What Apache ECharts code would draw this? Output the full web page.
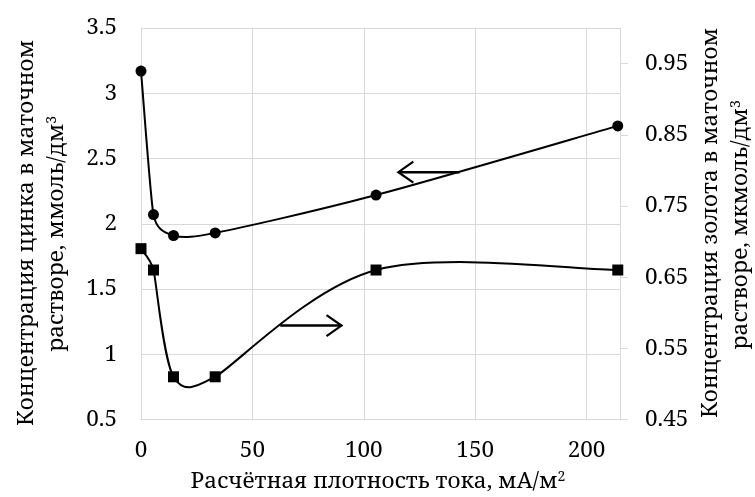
<!DOCTYPE html>
<html>
<head>
<meta charset="utf-8">
<script src="https://cdn.jsdelivr.net/npm/echarts@6/dist/echarts.min.js"></script>
<style>
  html, body { margin: 0; padding: 0; background: #fff; }
  #chart { width: 755px; height: 497px; }
</style>
</head>
<body>
<div id="chart"></div>
<script>
// Current density, mA/m²
const density = [0, 5.6, 14.6, 33.3, 105.5, 214];
// Zinc concentration in the mother solution, mmol/dm³ (left axis)
const zinc = [3.17, 2.07, 1.91, 1.93, 2.22, 2.75];
// Gold concentration in the mother solution, µmol/dm³ (right axis)
const gold = [0.69, 0.66, 0.51, 0.51, 0.66, 0.66];

// Axis tick values
const xTicks = [0, 50, 100, 150, 200];
const leftTicks = [0.5, 1, 1.5, 2, 2.5, 3, 3.5];
const rightTicks = [0.45, 0.55, 0.65, 0.75, 0.85, 0.95];

// Pointer arrows, in data units: [fromX, toX, y, yAxisIndex]
const zincArrow = [143, 115.5, 2.395, 0];
const goldArrow = [62.5, 90, 0.582, 1];

const FONT = '"Noto Serif", "DejaVu Serif", serif';
const FS = 22.5;
const GRID = '#d9d9d9';

const chart = echarts.init(document.getElementById('chart'), null, { renderer: 'canvas' });

const labelStyle = { color: '#000', fontFamily: FONT, fontSize: FS };

// Smooth curve through the points: cubic Bézier segments with Catmull-Rom
// tangents, each control arm capped at half of the adjacent segment.
function smoothCurve(values, yAxisIndex) {
  return {
    type: 'custom',
    yAxisIndex: yAxisIndex,
    data: density.map((x, i) => [x, values[i]]),
    silent: true,
    z: 2,
    renderItem: function (params, api) {
      const i = params.dataIndex;
      const n = density.length;
      if (i >= n - 1) return null;
      const p = k => api.coord([density[Math.max(0, Math.min(n - 1, k))],
                                values[Math.max(0, Math.min(n - 1, k))]]);
      const dist = (a, b) => Math.hypot(a[0] - b[0], a[1] - b[1]);
      const p0 = p(i - 1), p1 = p(i), p2 = p(i + 1), p3 = p(i + 2);
      // tangent arm at point b, given its neighbours a and c
      function arm(a, b, c) {
        const v = [c[0] - a[0], c[1] - a[1]];
        const len = Math.hypot(v[0], v[1]);
        if (len === 0) return [0, 0];
        let L = len / 6;
        const d0 = dist(a, b), d1 = dist(b, c);
        const lim = Math.min(d0 > 0 ? d0 : Infinity, d1 > 0 ? d1 : Infinity) / 2;
        if (L > lim) L = lim;
        return [v[0] / len * L, v[1] / len * L];
      }
      const a1 = arm(p0, p1, p2);
      const a2 = arm(p1, p2, p3);
      return {
        type: 'bezierCurve',
        shape: {
          x1: p1[0], y1: p1[1],
          cpx1: p1[0] + a1[0], cpy1: p1[1] + a1[1],
          cpx2: p2[0] - a2[0], cpy2: p2[1] - a2[1],
          x2: p2[0], y2: p2[1]
        },
        style: { stroke: '#000', lineWidth: 2, fill: null }
      };
    }
  };
}

function markers(values, yAxisIndex, symbol) {
  return {
    type: 'scatter',
    yAxisIndex: yAxisIndex,
    data: density.map((x, i) => [x, values[i]]),
    symbol: symbol,
    symbolSize: 11,
    itemStyle: { color: '#000', opacity: 1 },
    z: 3
  };
}

chart.setOption({
  animation: false,
  backgroundColor: '#fff',
  textStyle: { fontFamily: FONT },
  grid: { left: 141, right: 135, top: 28, bottom: 77.5, containLabel: false },
  xAxis: {
    type: 'value',
    min: 0,
    max: 215,
    interval: 50,
    axisLine: { show: true, lineStyle: { color: GRID, width: 1 } },
    axisTick: { show: false },
    axisLabel: Object.assign({ margin: 20, customValues: xTicks }, labelStyle),
    splitLine: { show: true, lineStyle: { color: GRID, width: 1 } }
  },
  yAxis: [
    {
      type: 'value',
      position: 'left',
      min: 0.5,
      max: 3.5,
      interval: 0.5,
      axisLine: { show: true, lineStyle: { color: GRID, width: 1 } },
      axisTick: { show: false },
      axisLabel: Object.assign({ margin: 24, customValues: leftTicks,
        formatter: v => String(v) }, labelStyle),
      splitLine: { show: true, lineStyle: { color: GRID, width: 1 } }
    },
    {
      type: 'value',
      position: 'right',
      min: 0.45,
      max: 1.0,
      interval: 0.1,
      axisLine: { show: true, lineStyle: { color: GRID, width: 1 } },
      axisTick: { show: true, inside: false, length: 8, customValues: rightTicks,
        lineStyle: { color: GRID, width: 1 } },
      axisLabel: Object.assign({ margin: 25, customValues: rightTicks,
        formatter: v => v.toFixed(2) }, labelStyle),
      splitLine: { show: false }
    }
  ],
  series: [
    smoothCurve(zinc, 0),
    smoothCurve(gold, 1),
    markers(zinc, 0, 'circle'),
    markers(gold, 1, 'rect')
  ]
});

// Axis titles and pointer arrows
const supRich = { s: { fontFamily: FONT, fontSize: 14, fill: '#000', padding: [0, 0, 10, 0] } };

function titleText(x, y, text, rotation) {
  return {
    type: 'text',
    x: x, y: y,
    rotation: rotation,
    silent: true,
    style: {
      text: text,
      fill: '#000',
      fontFamily: FONT,
      fontSize: FS,
      align: 'center',
      verticalAlign: 'middle',
      rich: supRich
    }
  };
}

function arrowShape(a) {
  const [x0, x1, y, yi] = a;
  const p0 = chart.convertToPixel({ xAxisIndex: 0, yAxisIndex: yi }, [x0, y]);
  const p1 = chart.convertToPixel({ xAxisIndex: 0, yAxisIndex: yi }, [x1, y]);
  const dir = Math.sign(p1[0] - p0[0]);
  const headLen = 15, headHalf = 10.5;
  return [
    {
      type: 'polyline', silent: true, z: 10,
      shape: { points: [p0, p1] },
      style: { stroke: '#000', lineWidth: 2.4, fill: null }
    },
    {
      type: 'polyline', silent: true, z: 10,
      shape: { points: [
        [p1[0] - dir * headLen, p1[1] - headHalf],
        [p1[0], p1[1]],
        [p1[0] - dir * headLen, p1[1] + headHalf]
      ] },
      style: { stroke: '#000', lineWidth: 2.2, fill: null, lineJoin: 'miter' }
    }
  ];
}

const UP = Math.PI / 2;   // reads bottom-to-top
chart.setOption({
  graphic: [
    titleText(27, 233, 'Концентрация цинка в маточном', UP),
    titleText(57, 234, 'растворе, ммоль/дм{s|3}', UP),
    titleText(711, 223, 'Концентрация золота в маточном', UP),
    titleText(741, 225, 'растворе, мкмоль/дм{s|3}', UP),
    titleText(378, 482, 'Расчётная плотность тока, мА/м{s|2}', 0)
  ].concat(arrowShape(zincArrow), arrowShape(goldArrow))
});
</script>
</body>
</html>
